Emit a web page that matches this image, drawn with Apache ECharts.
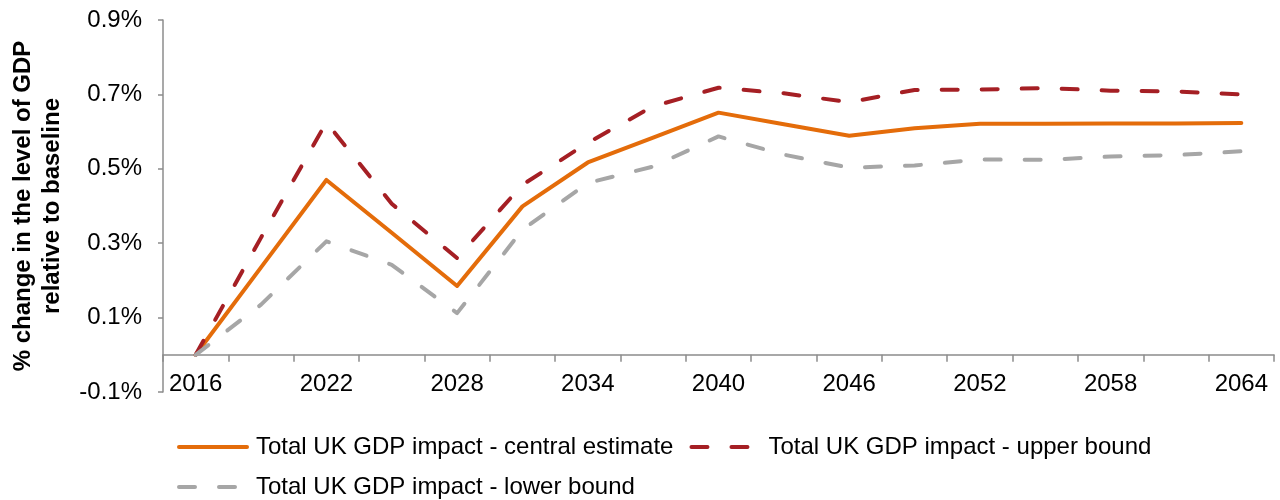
<!DOCTYPE html>
<html>
<head>
<meta charset="utf-8">
<script src="https://cdn.jsdelivr.net/npm/echarts@6/dist/echarts.min.js"></script>
<style>
html,body{margin:0;padding:0;background:#fff;}
#chart{width:1280px;height:500px;}
</style>
</head>
<body>
<div id="chart"></div>
<script>
const years = ['2016','2019','2022','2025','2028','2031','2034','2037','2040','2043','2046','2049','2052','2055','2058','2061','2064'];
const centralEstimate = [0, 0.235, 0.470, 0.328, 0.185, 0.399, 0.517, 0.584, 0.651, 0.620, 0.589, 0.609, 0.621, 0.621, 0.622, 0.622, 0.623];
const upperBound = [0, 0.315, 0.625, 0.406, 0.260, 0.457, 0.570, 0.668, 0.718, 0.703, 0.679, 0.712, 0.713, 0.717, 0.710, 0.708, 0.700];
const lowerBound = [0, 0.135, 0.305, 0.242, 0.112, 0.336, 0.462, 0.506, 0.587, 0.538, 0.503, 0.509, 0.525, 0.524, 0.533, 0.537, 0.547];
const seriesNames = ['Total UK GDP impact - central estimate', 'Total UK GDP impact - upper bound', 'Total UK GDP impact - lower bound'];
const yTitle = '% change in the level of GDP\nrelative to baseline';

const FONT = "'Liberation Sans', Arial, sans-serif";
const AXIS_COLOR = '#8c8c8c';
const chart = echarts.init(document.getElementById('chart'), null, {renderer: 'canvas'});

const legendCommon = {
  orient: 'horizontal',
  padding: 0,
  itemWidth: 68,
  itemHeight: 14,
  itemGap: 16,
  selectedMode: false,
  itemStyle: {opacity: 0},
  lineStyle: {width: 4, cap: 'round'},
  textStyle: {fontFamily: FONT, fontSize: 24, color: '#000', padding: [0, 0, 0, 4]}
};

chart.setOption({
  animation: false,
  backgroundColor: '#fff',
  grid: {left: 163, right: 6, top: 20, bottom: 108, containLabel: false},
  graphic: [{
    type: 'text',
    x: 38, y: 206,
    rotation: Math.PI / 2,
    style: {
      text: yTitle,
      font: "bold 24px 'Liberation Sans', Arial, sans-serif",
      fill: '#000',
      textAlign: 'center',
      textVerticalAlign: 'middle',
      lineHeight: 29
    }
  }],
  legend: [
    Object.assign({}, legendCommon, {data: [seriesNames[0], seriesNames[1]], left: 177, top: 435}),
    Object.assign({}, legendCommon, {data: [seriesNames[2]], left: 177, top: 475})
  ],
  xAxis: {
    type: 'category',
    data: years,
    boundaryGap: true,
    axisLine: {onZero: true, lineStyle: {color: AXIS_COLOR, width: 1.5}},
    axisTick: {show: true, interval: 0, length: 7, lineStyle: {color: AXIS_COLOR, width: 1.5}},
    axisLabel: {interval: 1, margin: -20, fontFamily: FONT, fontSize: 24, color: '#000'},
    splitLine: {show: false}
  },
  yAxis: {
    type: 'value',
    min: -0.1, max: 0.9, interval: 0.2,
    axisLine: {show: true, lineStyle: {color: AXIS_COLOR, width: 1.5}},
    axisTick: {show: true, length: 5, lineStyle: {color: AXIS_COLOR, width: 1.5}},
    axisLabel: {margin: 21, fontFamily: FONT, fontSize: 24, color: '#000',
      formatter: function (v) { return (Math.round(v * 10) / 10).toFixed(1) + '%'; }},
    splitLine: {show: false}
  },
  series: [
    {name: seriesNames[0], type: 'line', data: centralEstimate, symbol: 'none', silent: true,
      lineStyle: {color: '#E46C0A', width: 4, cap: 'round', join: 'round'}, itemStyle: {color: '#E46C0A'}},
    {name: seriesNames[1], type: 'line', data: upperBound, symbol: 'none', silent: true,
      lineStyle: {color: '#A51F24', width: 4, type: [16, 24], cap: 'round', join: 'round'}, itemStyle: {color: '#A51F24'}},
    {name: seriesNames[2], type: 'line', data: lowerBound, symbol: 'none', silent: true,
      lineStyle: {color: '#A6A6A6', width: 4, type: [16, 24], cap: 'round', join: 'round'}, itemStyle: {color: '#A6A6A6'}}
  ]
});
</script>
</body>
</html>
